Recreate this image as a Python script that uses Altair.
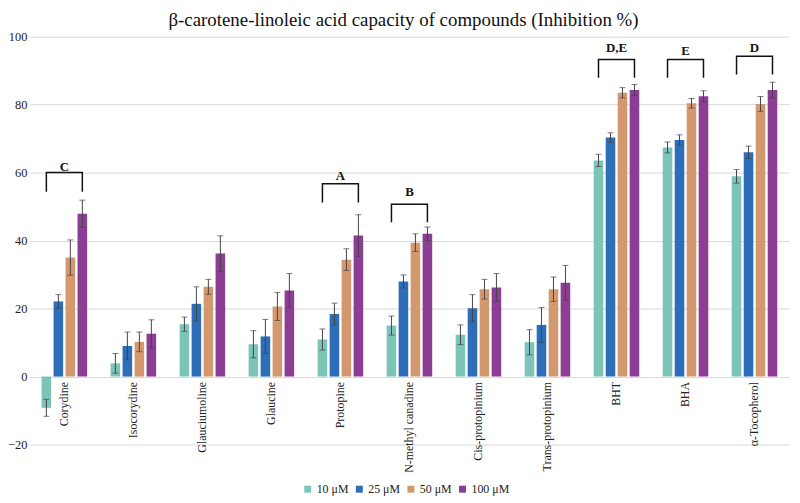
import altair as alt
import pandas as pd

# compounds on the x axis
categories = ["Corydine", "Isocorydine", "Glauciumoline", "Glaucine", "Protopine",
              "N-methyl canadine", "Cis-protopinium", "Trans-protopinium",
              "BHT", "BHA", "α-Tocopherol"]
series = ["10 μM", "25 μM", "50 μM", "100 μM"]
colors = ["#7cc3b8", "#2e6db8", "#d4986f", "#8b3e93"]

# inhibition % and error bar half-widths
v10 = [-9.2, 3.9, 15.4, 9.5, 10.9, 15.0, 12.3, 10.1, 63.6, 67.4, 58.9]
e10 = [2.5, 2.9, 2.1, 4.0, 3.1, 2.8, 2.9, 3.7, 1.8, 1.6, 2.0]
v25 = [22.1, 9.0, 21.4, 11.8, 18.4, 28.0, 20.1, 15.2, 70.3, 69.6, 66.0]
e25 = [2.0, 4.1, 5.0, 5.0, 3.2, 1.9, 4.0, 5.1, 1.4, 1.5, 1.8]
v50 = [35.0, 10.2, 26.4, 20.6, 34.4, 39.4, 25.7, 25.7, 83.5, 80.4, 80.2]
e50 = [5.2, 2.9, 2.2, 4.1, 3.2, 2.6, 2.9, 3.6, 1.5, 1.4, 2.2]
v100 = [47.9, 12.6, 36.2, 25.3, 41.5, 42.0, 26.2, 27.6, 84.3, 82.5, 84.3]
e100 = [4.0, 4.1, 5.2, 5.0, 6.1, 2.0, 4.1, 5.1, 1.6, 1.6, 2.3]

# significance brackets
bracket_cats = ["Corydine", "Protopine", "N-methyl canadine", "BHT", "BHA", "α-Tocopherol"]
bracket_text = ["C", "A", "B", "D,E", "E", "D"]
bracket_top = [60.0, 56.7, 50.7, 93.3, 93.3, 94.2]
bracket_bottom = [54.4, 51.2, 45.4, 87.9, 87.9, 88.9]
bracket_label_y = [61.7, 59.0, 54.4, 96.7, 95.9, 96.7]

rows = []
for s, vals, errs in zip(series, [v10, v25, v50, v100], [e10, e25, e50, e100]):
    for c, v, e in zip(categories, vals, errs):
        rows.append({"compound": c, "conc": s, "value": v, "lo": v - e, "hi": v + e})
bars_df = pd.DataFrame(rows)

br_rows = []
for c, t, top, bot in zip(bracket_cats, bracket_text, bracket_top, bracket_bottom):
    pts = [(series[0], bot), (series[0], top), (series[-1], top), (series[-1], bot)]
    for k, (s, yv) in enumerate(pts):
        br_rows.append({"compound": c, "conc": s, "y": yv, "k": k, "label": t})
br_df = pd.DataFrame(br_rows)
lab_df = pd.DataFrame({"compound": bracket_cats, "label": bracket_text, "y": bracket_label_y})

FONT = "Liberation Serif, Times New Roman, DejaVu Serif, serif"

xenc = alt.X("compound:N", sort=categories,
             scale=alt.Scale(domain=categories, paddingInner=0.34, paddingOuter=0.17),
             axis=alt.Axis(title=None, labelAngle=-90, offset=-68.5, domain=False, ticks=False,
                           labelFont=FONT, labelFontSize=12, labelColor="#222",
                           labelPadding=5, labelLimit=200))
xoff = alt.XOffset("conc:N", sort=series, scale=alt.Scale(domain=series, paddingInner=0.2))
yaxis = alt.Axis(title=None, values=[-20, 0, 20, 40, 60, 80, 100], domain=False, ticks=False,
                 labelFont=FONT, labelFontSize=12.5, labelColor="#222", labelPadding=3,
                 gridColor="#d9d9d9")
yscale = alt.Scale(domain=[-20, 100], nice=False, zero=False)

bars = alt.Chart(bars_df).mark_bar().encode(
    x=xenc, xOffset=xoff,
    y=alt.Y("value:Q", scale=yscale, axis=yaxis),
    color=alt.Color("conc:N", sort=series,
                    scale=alt.Scale(domain=series, range=colors),
                    legend=alt.Legend(title=None, orient="none", direction="horizontal",
                                      legendX=274, legendY=450, symbolType="square",
                                      symbolSize=49, symbolStrokeWidth=0,
                                      labelFont=FONT, labelFontSize=12, labelColor="#222",
                                      columnPadding=4, labelOffset=3, padding=0)),
)

err = alt.Chart(bars_df).mark_rule(color="#444", strokeWidth=1).encode(
    x=xenc, xOffset=xoff,
    y=alt.Y("lo:Q", scale=yscale, axis=yaxis), y2="hi:Q",
)
cap_hi = alt.Chart(bars_df).mark_tick(color="#444", thickness=1, size=6).encode(
    x=xenc, xOffset=xoff, y=alt.Y("hi:Q", scale=yscale, axis=yaxis),
)
cap_lo = alt.Chart(bars_df).mark_tick(color="#444", thickness=1, size=6).encode(
    x=xenc, xOffset=xoff, y=alt.Y("lo:Q", scale=yscale, axis=yaxis),
)

brackets = alt.Chart(br_df).mark_line(color="#111", strokeWidth=1.5, interpolate="linear").encode(
    x=xenc, xOffset=xoff,
    y=alt.Y("y:Q", scale=yscale, axis=yaxis),
    detail="compound:N", order="k:Q",
)
labels = alt.Chart(lab_df).mark_text(font=FONT, fontSize=13, fontWeight="bold",
                                     color="#111", baseline="middle").encode(
    x=xenc, y=alt.Y("y:Q", scale=yscale, axis=yaxis), text="label:N",
)

chart = alt.layer(bars, err, cap_hi, cap_lo, brackets, labels).properties(
    width=765, height=411,
    autosize=alt.AutoSizeParams(type="none"),
    padding={"left": 22, "top": 27, "right": 3, "bottom": 51},
    title=alt.TitleParams("β-carotene-linoleic acid capacity of compounds (Inhibition %)",
                          font=FONT, fontSize=19, fontWeight="normal", color="#111",
                          anchor="middle", frame="group", offset=1, dx=-6),
).configure_view(stroke=None)

chart.save("out.html", embed_options={"renderer": "svg", "actions": False})
